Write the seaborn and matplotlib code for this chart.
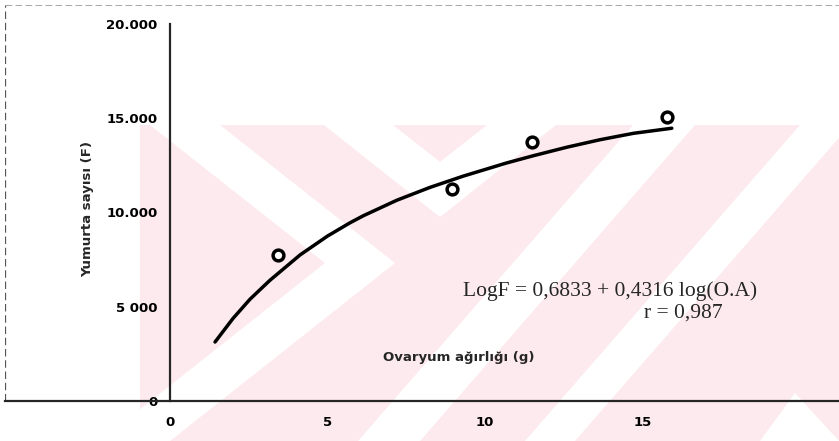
import matplotlib
matplotlib.use("Agg")
import matplotlib.pyplot as plt
from matplotlib.patches import Polygon
from matplotlib.lines import Line2D
import seaborn as sns
import pandas as pd

# Observed points: ovary weight (g) vs. egg count (F)
ovary_weight = [3.44, 8.94, 11.50, 15.77]
egg_count = [7745, 11231, 13756, 15082]

# Regression curve as drawn on the chart
curve_weight = [1.43, 2.00, 2.54, 3.17, 4.13, 5.00, 5.71, 6.14, 7.20, 8.25,
                9.31, 10.69, 11.53, 12.59, 13.65, 14.71, 15.93]
curve_count = [3130, 4380, 5400, 6400, 7750, 8750, 9450, 9830, 10650, 11330,
               11930, 12630, 13010, 13460, 13860, 14200, 14470]

x_ticks = [0, 5, 10, 15]
y_ticks = [0, 5000, 10000, 15000, 20000]
y_tick_labels = ["0", "5 000", "10.000", "15.000", "20.000"]

equation = "LogF = 0,6833 + 0,4316 log(O.A)"
corr = "r = 0,987"

points = pd.DataFrame({"w": ovary_weight, "f": egg_count})
curve = pd.DataFrame({"w": curve_weight, "f": curve_count})

sns.set_style("white")
plt.rcParams["font.family"] = ["DejaVu Sans"]

W, H = 839, 441
fig = plt.figure(figsize=(W / 100, H / 100), dpi=100)

# background layer in pixel coordinates (y grows downwards)
bg_ax = fig.add_axes([0, 0, 1, 1], zorder=0)
bg_ax.set_xlim(0, W)
bg_ax.set_ylim(H, 0)
bg_ax.axis("off")

pink = "#fdeaee"
pink_area = [(140, 125), (839, 125), (839, 441), (140, 441)]
white_bands = [
    [(150, 125), (220, 125), (395, 263), (170, 441), (100, 441), (325, 263)],
    [(324, 125), (393, 125), (440, 162), (487, 125), (556, 125), (440, 217)],
    [(633, 125), (695, 125), (420, 441), (358, 441)],
    [(800, 125), (850, 125), (575, 441), (525, 441)],
    [(760, 441), (795, 393), (839, 441)],
]
bg_ax.add_patch(Polygon(pink_area, closed=True, fc=pink, ec="none"))
for poly in white_bands:
    bg_ax.add_patch(Polygon(poly, closed=True, fc="white", ec="none"))
bg_ax.add_patch(Polygon([(0, 0), (140, 0), (140, 441), (0, 441)], closed=True,
                        fc="white", ec="none"))

left_px, right_px, bottom_px, top_px = 5, 839, 401, 5
ax = fig.add_axes([left_px / W, (H - bottom_px) / H,
                   (right_px - left_px) / W, (bottom_px - top_px) / H], zorder=1)
ax.patch.set_alpha(0)

px_per_unit = 31.5
px_per_count = 94.25 / 5000
ax.set_xlim((left_px - 170) / px_per_unit, (right_px - 170) / px_per_unit)
ax.set_ylim(0, (bottom_px - top_px) / px_per_count)

sns.lineplot(data=curve, x="w", y="f", ax=ax, color="black", lw=2.5,
             sort=False, estimator=None, solid_joinstyle="round",
             solid_capstyle="round")
sns.scatterplot(data=points, x="w", y="f", ax=ax, marker="o", s=60,
                facecolor="white", edgecolor="black", linewidth=2.5, zorder=5)

for side in ["top", "right"]:
    ax.spines[side].set_visible(False)
ax.spines["left"].set_position(("data", 0))
ax.spines["left"].set_bounds(0, 20000)
ax.spines["left"].set_linewidth(1.6)
ax.spines["bottom"].set_linewidth(1.6)

# page frame lines
ax.add_line(Line2D([0, 0], [0, 1], transform=ax.transAxes, color="#555555",
                   lw=0.9, ls=(0, (6, 3))))
ax.add_line(Line2D([0, 1], [1, 1], transform=ax.transAxes, color="#999999",
                   lw=0.6, ls=(0, (8, 4))))

ax.set_xticks(x_ticks)
ax.set_xticklabels([str(t) for t in x_ticks])
ax.set_yticks(y_ticks)
ax.set_yticklabels(y_tick_labels)
ax.tick_params(axis="both", direction="inout", length=10, width=1.3,
               colors="black", labelsize=9.5)
ax.tick_params(axis="y", pad=4)
ax.tick_params(axis="x", pad=6)
for lab in ax.get_xticklabels() + ax.get_yticklabels():
    lab.set_fontweight("bold")

ax.set_xlabel("")
ax.set_ylabel("")
fig.text(88 / W, 1 - 209 / H, "Yumurta sayısı (F)", rotation=90,
         ha="center", va="center", fontsize=9.5, fontweight="bold")
fig.text(459 / W, 1 - 357 / H, "Ovaryum ağırlığı (g)",
         ha="center", va="center", fontsize=9.5, fontweight="bold")
fig.text(610 / W, 1 - 291 / H, equation, ha="center", va="center",
         fontsize=15.5, family="Liberation Serif")
fig.text(723 / W, 1 - 313 / H, corr, ha="right", va="center",
         fontsize=15.5, family="Liberation Serif")

fig.savefig("out.png", dpi=100)
